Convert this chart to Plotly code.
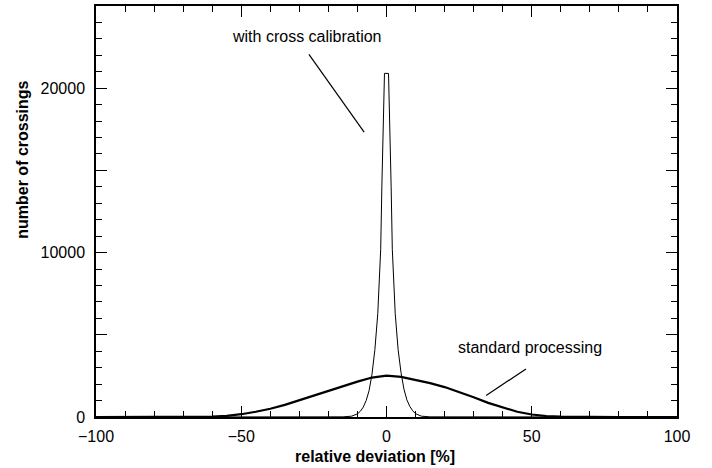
import plotly.graph_objects as go

# Standard processing histogram (relative deviation %, number of crossings)
std_x = [-100, -90, -80, -70, -65, -60, -55, -50, -45, -40, -35, -30, -25, -20, -15,
         -10, -5, 0, 5, 10, 15, 20, 25, 30, 35, 40, 45, 50, 55, 60, 65, 70, 80, 90, 100]
std_y = [0, 0, 0, 0, 5, 20, 70, 170, 320, 500, 740, 1020, 1300, 1600, 1900,
         2150, 2400, 2520, 2440, 2250, 2060, 1820, 1520, 1200, 860, 570, 320, 150, 60, 20, 5, 0, 0, 0, 0]

# With cross calibration histogram
cc_x = [-100, -30, -15, -12, -10, -9, -8, -7, -6, -5, -4, -3, -2.5, -2, -1.6, -1.2, -0.7,
        0.7, 1.2, 1.6, 2, 2.5, 3, 4, 5, 6, 7, 8, 9, 10, 12, 15, 30, 100]
cc_y = [0, 0, 10, 50, 190, 350, 600, 1000, 1600, 2600, 4100, 6300, 8000, 10200, 14000, 17500, 20900,
        20900, 17500, 14000, 10200, 8000, 6300, 4100, 2700, 1700, 1050, 650, 380, 200, 50, 10, 0, 0]

x_tick_vals = [-100, -50, 0, 50, 100]
x_tick_text = ["\u2212100", "\u221250", "0", "50", "100"]
y_tick_vals = [0, 5000, 10000, 15000, 20000]
y_tick_text = ["0", "", "10000", "", "20000"]

FONT = "Liberation Sans, Arial, Helvetica, sans-serif"

fig = go.Figure()
fig.add_trace(go.Scatter(x=cc_x, y=cc_y, mode="lines",
                         line=dict(color="black", width=1), showlegend=False))
fig.add_trace(go.Scatter(x=std_x, y=std_y, mode="lines",
                         line=dict(color="black", width=2.2), showlegend=False))

axis_common = dict(showgrid=False, zeroline=False, showline=True, linecolor="black",
                   linewidth=1.5, mirror="ticks", ticks="inside", tickcolor="black",
                   tickwidth=1.2, ticklen=11,
                   tickfont=dict(family=FONT, size=16, color="black"))

fig.update_xaxes(range=[-100, 100], tickmode="array", tickvals=x_tick_vals,
                 ticktext=x_tick_text,
                 minor=dict(dtick=10, tick0=0, ticks="inside", ticklen=6,
                            tickcolor="black", tickwidth=1.2, showgrid=False),
                 ticklabelstandoff=4, **axis_common)
fig.update_yaxes(range=[0, 25000], tickmode="array", tickvals=y_tick_vals,
                 ticktext=y_tick_text,
                 minor=dict(dtick=1000, tick0=0, ticks="inside", ticklen=6,
                            tickcolor="black", tickwidth=1.2, showgrid=False),
                 ticklabelstandoff=6, **axis_common)

fig.add_annotation(x=-27.5, y=23156, text="with cross calibration", showarrow=False,
                   font=dict(family=FONT, size=16, color="black"))
fig.add_annotation(x=49.4, y=4219, text="standard processing", showarrow=False,
                   font=dict(family=FONT, size=16, color="black"))
fig.add_shape(type="line", x0=-26.7, y0=22063, x1=-7.7, y1=17329,
              line=dict(color="black", width=1.2))
fig.add_shape(type="line", x0=48.0, y0=2926, x1=34.3, y1=1305,
              line=dict(color="black", width=1.2))

fig.add_annotation(xref="paper", yref="paper", x=0.48, y=-0.095, yanchor="middle",
                   text="<b>relative deviation [%]</b>", showarrow=False,
                   font=dict(family=FONT, size=16, color="black"))
fig.add_annotation(xref="paper", yref="paper", x=-0.128, y=0.625, xanchor="center",
                   yanchor="middle", textangle=-90,
                   text="<b>number of crossings</b>", showarrow=False,
                   font=dict(family=FONT, size=16, color="black"))

fig.update_layout(width=712, height=468,
                  margin=dict(l=96, r=35, t=4, b=51),
                  plot_bgcolor="white", paper_bgcolor="white")

fig.write_html("out.html", config={"displayModeBar": False},
               post_script="document.body.style.margin='0';document.body.style.padding='0';")
